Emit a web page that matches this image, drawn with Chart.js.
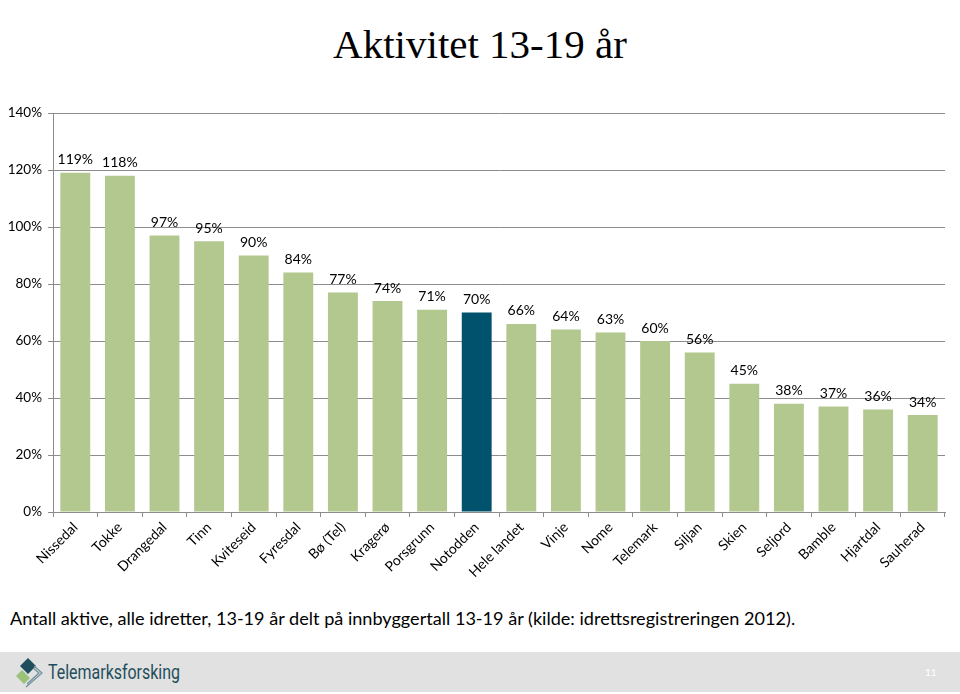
<!DOCTYPE html>
<html>
<head>
<meta charset="utf-8">
<script src="https://cdn.jsdelivr.net/npm/chart.js@4/dist/chart.umd.min.js"></script>
<style>
  html, body { margin: 0; padding: 0; background: #fff; }
  body { width: 960px; height: 694px; position: relative; overflow: hidden; }
  #title { position: absolute; left: 0; top: 18px; width: 960px; text-align: center;
           font-family: "Liberation Serif", "DejaVu Serif", serif; font-size: 41px; color: #000; line-height: 52px; }
  #wrap { position: absolute; left: 0; top: 95px; width: 960px; height: 505px; }
  #caption { position: absolute; left: 10px; top: 607px; font-family: Lato, "Open Sans", sans-serif;
             font-size: 18.1px; color: #000; white-space: nowrap; }
  #footer { position: absolute; left: 0; top: 652px; width: 960px; height: 40px; background: #e1e1e1; }
  #logoText { position: absolute; left: 48px; top: 8px; font-family: "Liberation Sans Narrow", "Roboto", sans-serif;
              font-size: 21px; color: #1f4e5c; transform: scaleX(0.76); transform-origin: 0 0; white-space: nowrap; }
  #pageNo { position: absolute; left: 925px; top: 14px; font-family: Lato, sans-serif; font-size: 10px; color: #fff; }
  #logo { position: absolute; left: 14px; top: 4px; }
</style>
</head>
<body>
<div id="title">Aktivitet 13-19 år</div>
<div id="wrap"><canvas id="c" width="960" height="505"></canvas></div>
<div id="caption">Antall aktive, alle idretter, 13-19 år delt på innbyggertall 13-19 år (kilde: idrettsregistreringen 2012).</div>
<div id="footer">
  <svg id="logo" width="34" height="34" viewBox="0 0 34 34">
    <polygon points="14,2 22,10 14,18 6,10" fill="#1f4e5c"/>
    <polygon points="8,14 16,22 10,28 2,20" fill="#9cc27a"/>
    <polyline points="12,31 28,17 20,10" fill="none" stroke="#6d8f9a" stroke-width="1.2"/>
    <polyline points="13,28 25,17 19,12" fill="none" stroke="#6d8f9a" stroke-width="1.2"/>
  </svg>
  <div id="logoText">Telemarksforsking</div>
  <div id="pageNo">11</div>
</div>
<script>
const categories = ["Nissedal", "Tokke", "Drangedal", "Tinn", "Kviteseid", "Fyresdal", "Bø (Tel)", "Kragerø", "Porsgrunn", "Notodden", "Hele landet", "Vinje", "Nome", "Telemark", "Siljan", "Skien", "Seljord", "Bamble", "Hjartdal", "Sauherad"];
const activityPct = [119, 118, 97, 95, 90, 84, 77, 74, 71, 70, 66, 64, 63, 60, 56, 45, 38, 37, 36, 34];
const yTicks = [0, 20, 40, 60, 80, 100, 120, 140];
const highlighted = "Notodden";

const GREEN = "#b3c88e";
const DARK = "#00526d";
const GRID = "#8c8c8c";
const FONT = "Lato, 'Open Sans', sans-serif";

const valueLabels = {
  id: "valueLabels",
  afterDatasetsDraw(chart) {
    const ctx = chart.ctx;
    const meta = chart.getDatasetMeta(0);
    ctx.save();
    ctx.font = "14px " + FONT;
    ctx.fillStyle = "#000";
    ctx.textAlign = "center";
    ctx.textBaseline = "bottom";
    meta.data.forEach((bar, i) => {
      ctx.fillText(chart.data.datasets[0].data[i] + "%", bar.x, bar.y - 6);
    });
    ctx.restore();
  }
};

new Chart(document.getElementById("c"), {
  type: "bar",
  data: {
    labels: categories,
    datasets: [{
      data: activityPct,
      backgroundColor: (c) => categories[c.dataIndex] === highlighted ? DARK : GREEN,
      categoryPercentage: 1,
      barPercentage: 0.67,
      borderWidth: 0
    }]
  },
  options: {
    responsive: false,
    animation: false,
    layout: { padding: { top: 18, right: 15, left: 0, bottom: 0 } },
    plugins: { legend: { display: false }, tooltip: { enabled: false }, title: { display: false } },
    scales: {
      y: {
        min: 0, max: 140,
        afterBuildTicks: (s) => { s.ticks = yTicks.map(v => ({ value: v })); },
        afterFit: (s) => { s.width = 53; },
        ticks: { callback: (v) => v + "%", color: "#000", font: { family: FONT, size: 13.5 }, padding: 6 },
        grid: { color: GRID, lineWidth: 1, tickLength: 5, drawTicks: true },
        border: { color: GRID, width: 1 }
      },
      x: {
        offset: true,
        afterFit: (s) => { s.height = 88; },
        ticks: { autoSkip: false, maxRotation: 45, minRotation: 45, color: "#000",
                 font: { family: FONT, size: 14 }, padding: 2 },
        grid: { offset: true, drawOnChartArea: false, tickLength: 5, color: GRID },
        border: { color: GRID, width: 1 }
      }
    }
  },
  plugins: [valueLabels]
});
</script>
</body>
</html>
